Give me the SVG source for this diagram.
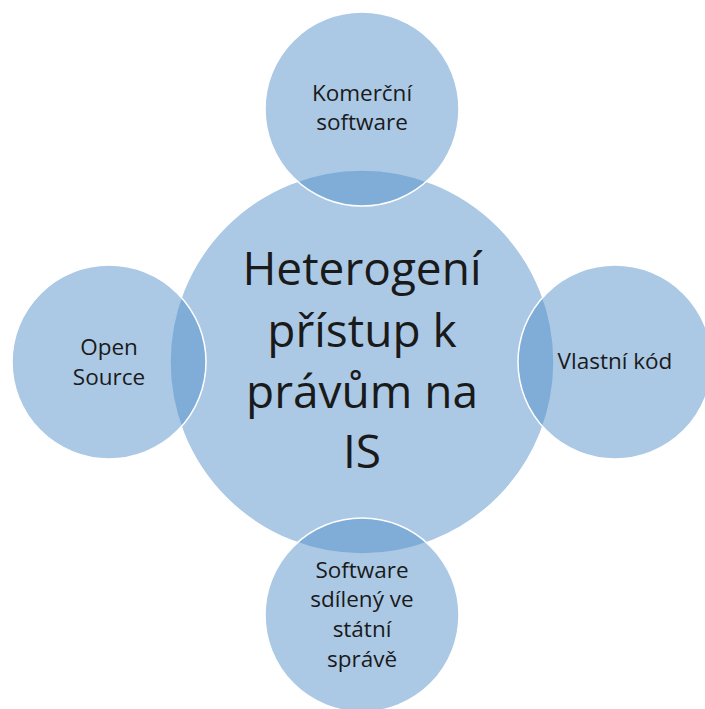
<svg xmlns="http://www.w3.org/2000/svg" width="705" height="709" viewBox="0 0 705 709">
<style>
.c{fill:rgb(79,142,200);fill-opacity:0.48;stroke:#ffffff;stroke-width:1.5}
.t{font-family:"Open Sans","Noto Sans",sans-serif;fill:#1a1a1a;text-anchor:middle}
.s{font-size:22.5px}
.b{font-size:46px}
</style>
<rect width="705" height="709" fill="#ffffff"/>
<g id="connectors"></g>
<g id="center"><circle class="c" cx="362" cy="362" r="192"/></g>
<g id="top"><circle class="c" cx="362" cy="109" r="97"/></g>
<g id="left"><circle class="c" cx="109" cy="362" r="97"/></g>
<g id="right"><circle class="c" cx="615" cy="362" r="97"/></g>
<g id="bottom"><circle class="c" cx="362" cy="615" r="97"/></g>
<g id="labels">
<text class="t b" x="362" y="285">Heterogení</text>
<text class="t b" x="362" y="347">přístup k</text>
<text class="t b" x="362" y="408">právům na</text>
<text class="t b" x="362" y="468">IS</text>
<text class="t s" x="362" y="101">Komerční</text>
<text class="t s" x="362" y="130">software</text>
<text class="t s" x="109" y="355">Open</text>
<text class="t s" x="109" y="385">Source</text>
<text class="t s" x="615" y="369">Vlastní kód</text>
<text class="t s" x="362" y="578">Software</text>
<text class="t s" x="362" y="607">sdílený ve</text>
<text class="t s" x="362" y="637">státní</text>
<text class="t s" x="362" y="667">správě</text>
</g>
</svg>
